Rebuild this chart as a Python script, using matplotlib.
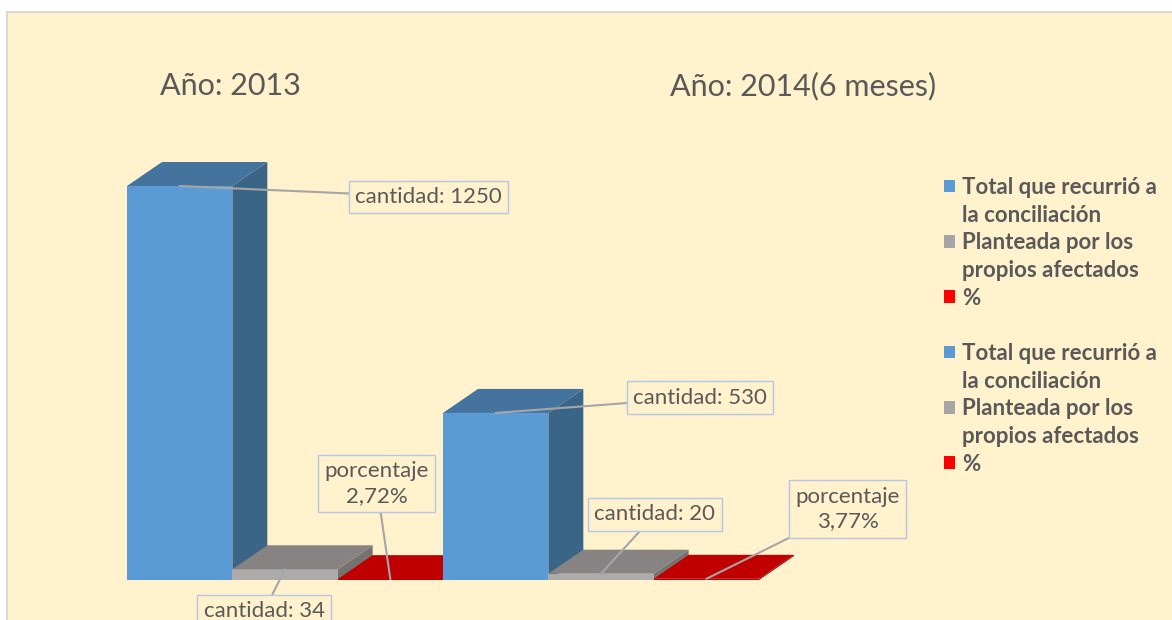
import matplotlib
matplotlib.use("Agg")
import matplotlib.pyplot as plt
from matplotlib.patches import Rectangle, Polygon, Patch

# ---------------- data ----------------
years = ["Año: 2013", "Año: 2014(6 meses)"]
series_names = ["Total que recurrió a la conciliación",
                "Planteada por los propios afectados", "%"]
total = [1250, 530]
planteada = [34, 20]
porcentaje = [2.72, 3.77]

# ---------------- style ----------------
BG = "#FFF2CC"
TXT = "#595959"
FRONT = ["#5B9BD5", "#ADAAAA", "#C00000"]
SIDE = ["#3A6587", "#767272", "#900000"]
TOP = ["#44739E", "#878382", "#C00000"]
LEG = ["#5B9BD5", "#A5A5A5", "#FF0000"]
FONT = "Lato"

W, H = 1172, 620
fig = plt.figure(figsize=(W / 100, H / 100), dpi=100, facecolor="white")
fig.add_artist(Rectangle((7 / W, -0.01), 1.02, (H - 12) / H + 0.01,
                         transform=fig.transFigure, fc=BG, ec="#D9D9D9", lw=1.5, zorder=0))

# plot area (pixels from top-left): x 127 .. 759, baseline 580, top of max at 186
ax = fig.add_axes([127 / W, (H - 580) / H, 632 / W, 394 / H])
ax.set_xlim(0, 6)
ax.set_ylim(0, 1250)
ax.axis("off")
ax.patch.set_alpha(0)

# depth in pixels converted to data units
DEPTH_PX = (35, 24)
dx = DEPTH_PX[0] / (632 / 6)
dy = DEPTH_PX[1] / (394 / 1250)

values = [[total[g], planteada[g], porcentaje[g]] for g in range(2)]

z = 2
for g in range(2):
    for s in range(3):
        v = values[g][s]
        x0 = g * 3 + s
        x1 = x0 + 1
        side = Polygon([(x1, 0), (x1 + dx, dy), (x1 + dx, v + dy), (x1, v)],
                       closed=True, fc=SIDE[s], ec="none", clip_on=False, zorder=z)
        front = Rectangle((x0, 0), 1, v, fc=FRONT[s], ec="none", clip_on=False, zorder=z + 0.1)
        top = Polygon([(x0, v), (x0 + dx, v + dy), (x1 + dx, v + dy), (x1, v)],
                      closed=True, fc=TOP[s], ec="none", clip_on=False, zorder=z + 0.2)
        for p in (side, front, top):
            ax.add_patch(p)
        z += 1

# ---------------- data labels ----------------
def fmt_pct(p):
    return "porcentaje\n" + f"{p:.2f}".replace(".", ",") + "%"

labels = [
    (0, 0, f"cantidad: {total[0]}", (428.5, 197)),
    (0, 1, f"cantidad: {planteada[0]}", (264, 611)),
    (0, 2, fmt_pct(porcentaje[0]), (376.5, 483.5)),
    (1, 0, f"cantidad: {total[1]}", (700, 397.5)),
    (1, 1, f"cantidad: {planteada[1]}", (655, 514.5)),
    (1, 2, fmt_pct(porcentaje[1]), (847.5, 509)),
]
for g, s, txt, (cx, cy) in labels:
    v = values[g][s]
    ax.annotate(txt, xy=(g * 3 + s + 0.5, v), xycoords="data",
                xytext=(cx, H - cy), textcoords="figure pixels",
                ha="center", va="center", fontsize=16, family=FONT, color=TXT,
                linespacing=1.3,
                bbox=dict(boxstyle="square,pad=0.28", fc=BG, ec="#B4C7E7", lw=1),
                arrowprops=dict(arrowstyle="-", color="#A6A6A6", lw=1.5,
                                shrinkA=0, shrinkB=0),
                annotation_clip=False, zorder=50)

# ---------------- titles ----------------
fig.text(160 / W, 1 - 86 / H, years[0], ha="left", va="center",
         fontsize=22, family=FONT, color=TXT)
fig.text(670 / W, 1 - 86 / H, years[1], ha="left", va="center",
         fontsize=22, family=FONT, color=TXT)

# ---------------- legend ----------------
handles, labs = [], []
for rep in range(2):
    for s, name in enumerate(series_names):
        if s == 0:
            lines = ["Total que recurrió a", "la conciliación"]
        elif s == 1:
            lines = ["Planteada por los", "propios afectados"]
        else:
            lines = ["%"]
        for i, ln in enumerate(lines):
            if i == 0:
                handles.append(Patch(fc=LEG[s], ec="none"))
            else:
                handles.append(Patch(fc="none", ec="none"))
            labs.append(ln)
    if rep == 0:
        handles.append(Patch(fc="none", ec="none"))
        labs.append(" ")

leg = fig.legend(handles, labs, loc="upper left",
                 bbox_to_anchor=(944 / W, 1 - 177 / H),
                 frameon=False, borderpad=0, borderaxespad=0,
                 handlelength=0.5, handleheight=0.5, handletextpad=0.32,
                 labelspacing=0.30,
                 prop=dict(family=FONT, weight="bold", size=16))
for t in leg.get_texts():
    t.set_color(TXT)

fig.savefig("out.png", dpi=100, facecolor="white")
